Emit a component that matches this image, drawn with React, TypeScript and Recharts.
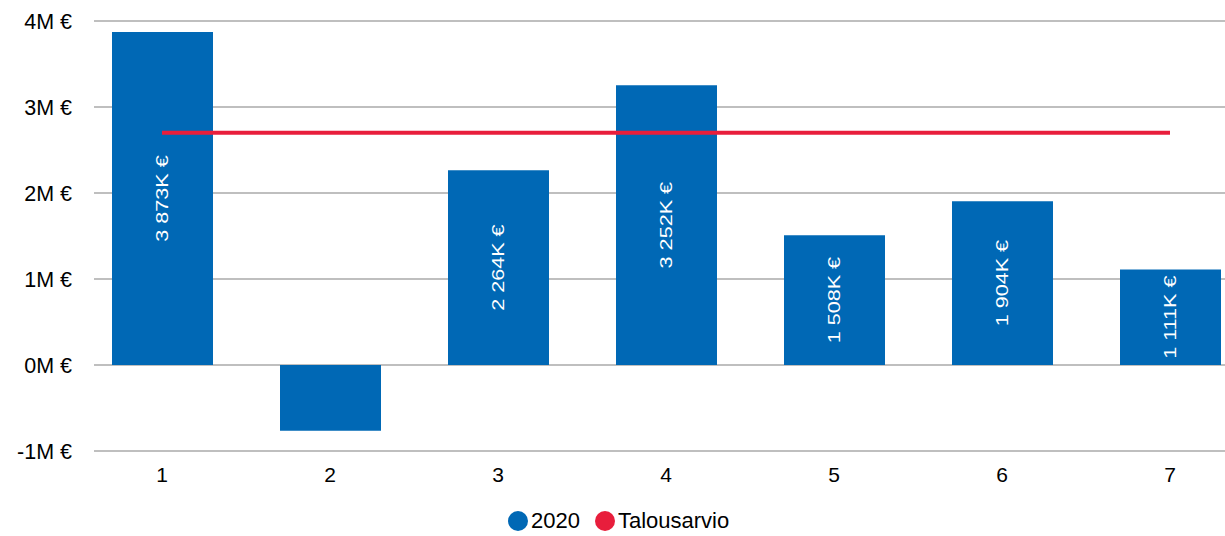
import { ComposedChart, Bar, Line, XAxis, YAxis, CartesianGrid, Legend, LabelList } from 'recharts';

const categories = ['1', '2', '3', '4', '5', '6', '7'];
const actual2020 = [3873000, -765000, 2264000, 3252000, 1508000, 1904000, 1111000];
const budget = [2700000, 2700000, 2700000, 2700000, 2700000, 2700000, 2700000];
const yTicks = [-1000000, 0, 1000000, 2000000, 3000000, 4000000];

const BLUE = '#0068b5';
const RED = '#e81e3c';
const FONT = '"Liberation Sans", Arial, sans-serif';

const data = categories.map((c, i) => ({ name: c, y2020: actual2020[i], talousarvio: budget[i] }));

function fmtK(v: number) {
  const k = Math.round(v / 1000);
  return String(k).replace(/\B(?=(\d{3})+(?!\d))/g, ' ') + 'K €';
}

function BarLabel(props: any) {
  const { x, y, width, height, value } = props;
  if (value == null || value < 0) return null;
  const cx = x + width / 2;
  const cy = y + height / 2;
  return (
    <text
      transform={`translate(${cx},${cy}) rotate(-90) scale(1.35,1)`}
      textAnchor="middle"
      dominantBaseline="central"
      fill="#ffffff"
      fontSize={16}
      fontFamily={FONT}
    >
      {fmtK(value)}
    </text>
  );
}

function LegendBox() {
  const items = [
    { label: '2020', color: BLUE },
    { label: 'Talousarvio', color: RED },
  ];
  return (
    <div style={{ height: 40, display: 'flex', alignItems: 'flex-end', paddingBottom: 4, boxSizing: 'border-box', fontFamily: FONT, fontSize: 22, color: '#000' }}>
      {items.map((it) => (
        <div key={it.label} style={{ display: 'flex', alignItems: 'center', marginRight: 15, height: 22 }}>
          <span style={{ display: 'inline-block', width: 20, height: 20, borderRadius: 10, background: it.color, marginRight: 3 }} />
          <span>{it.label}</span>
        </div>
      ))}
    </div>
  );
}

export default function App() {
  return (
    <div style={{ position: 'absolute', left: 0, top: 0, width: 1225, height: 536, overflow: 'hidden', background: '#fff' }}>
      <ComposedChart width={1254} height={536} data={data} margin={{ top: 21, right: 0, bottom: 0, left: 0 }} barCategoryGap="20%">
        <CartesianGrid horizontal vertical={false} x={94} width={1160} stroke="#bfbfbf" strokeWidth={2} />
        <XAxis
          dataKey="name"
          axisLine={false}
          tickLine={false}
          tickSize={0}
          tickMargin={16}
          height={45}
          tick={{ fill: '#000', fontSize: 21, fontFamily: FONT }}
        />
        <YAxis
          domain={[-1000000, 4000000]}
          ticks={yTicks}
          width={78}
          axisLine={false}
          tickLine={false}
          tickSize={0}
          tickMargin={6}
          tickFormatter={(v: number) => `${v / 1000000}M €`}
          tick={{ fill: '#000', fontSize: 21.5, fontFamily: FONT }}
        />
        <Legend verticalAlign="bottom" wrapperStyle={{ left: 508, width: 280 }} content={() => <LegendBox />} />
        <Bar dataKey="y2020" name="2020" fill={BLUE} barSize={101} isAnimationActive={false}>
          <LabelList dataKey="y2020" content={<BarLabel />} />
        </Bar>
        <Line dataKey="talousarvio" name="Talousarvio" stroke={RED} strokeWidth={4} dot={false} type="linear" isAnimationActive={false} />
      </ComposedChart>
    </div>
  );
}
